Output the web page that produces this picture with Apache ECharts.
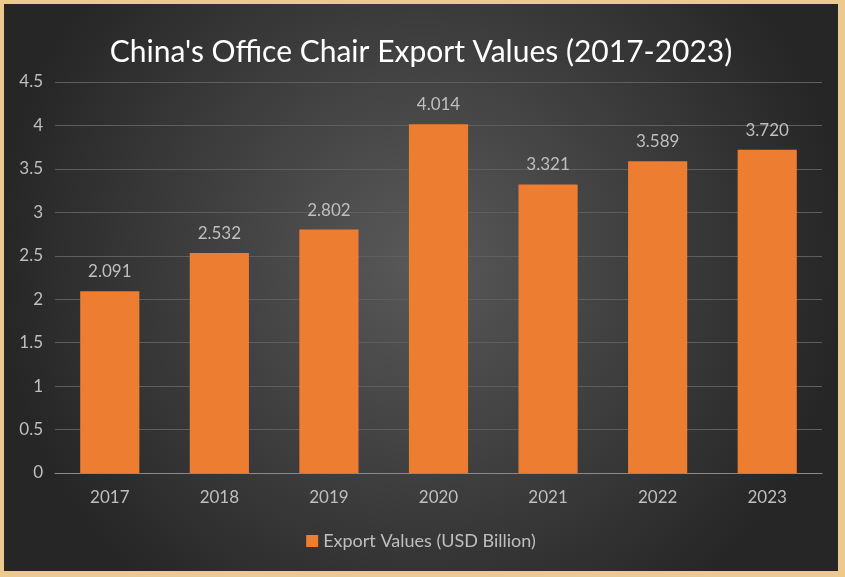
<!DOCTYPE html>
<html><head><meta charset="utf-8">
<script src="https://cdn.jsdelivr.net/npm/echarts@6/dist/echarts.min.js"></script>
<style>
html,body{margin:0;padding:0;background:#ebc98f;width:845px;height:577px;overflow:hidden;}
#c{position:absolute;left:4px;top:4px;width:834px;height:567px;}
</style></head><body>
<div id="c"></div>
<script>
const categories = ['2017','2018','2019','2020','2021','2022','2023'];
const values = [2.091, 2.532, 2.802, 4.014, 3.321, 3.589, 3.720];
const seriesName = 'Export Values (USD Billion)';
const titleText = "China's Office Chair Export Values (2017-2023)";
const font = 'Lato, "Open Sans", sans-serif';
const chart = echarts.init(document.getElementById('c'));
chart.setOption({
  backgroundColor: {type:'radial', x:0.5, y:0.45, r:0.75, colorStops:[{offset:0,color:'#595959'},{offset:1,color:'#262626'}]},
  animation:false,
  title:{text:titleText, left:'center', top:28, textStyle:{color:'#ffffff', fontSize:30, fontWeight:'normal', fontFamily:font}},
  legend:{bottom:16, left:'center', itemWidth:12, itemHeight:12, icon:'rect', itemGap:7,
    textStyle:{color:'#bfbfbf', fontSize:18, fontFamily:font}},
  grid:{left:51, right:16, top:78, bottom:98},
  xAxis:{type:'category', data:categories,
    axisLine:{lineStyle:{color:'#8a8a8a', width:1}}, axisTick:{show:false},
    axisLabel:{color:'#bfbfbf', fontSize:17, fontFamily:font, margin:16}},
  yAxis:{type:'value', min:0, max:4.5, interval:0.5,
    axisLine:{show:false}, axisTick:{show:false},
    axisLabel:{color:'#bfbfbf', fontSize:17, fontFamily:font, margin:12},
    splitLine:{lineStyle:{color:'#5e5e5e', width:1}}},
  series:[{name:seriesName, type:'bar', data:values, barWidth:'54%',
    itemStyle:{color:'#ed7d31'},
    label:{show:true, position:'top', distance:11, color:'#bfbfbf', fontSize:17, fontFamily:font,
      formatter:p=>p.value.toFixed(3)}}]
});
</script></body></html>
